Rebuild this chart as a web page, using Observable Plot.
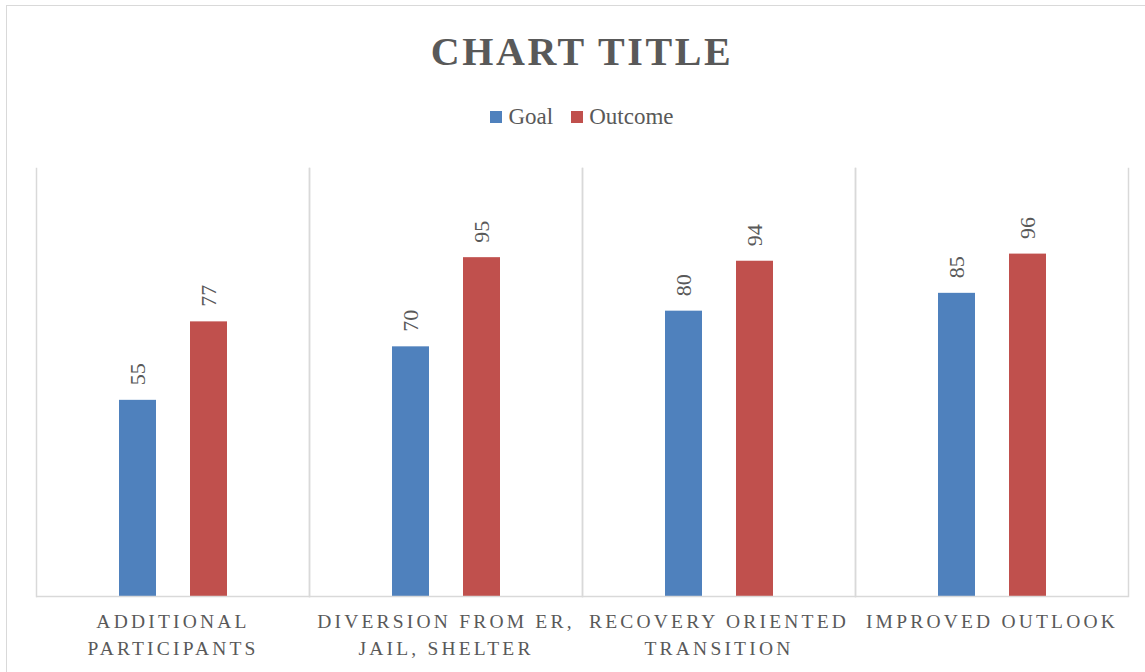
<!DOCTYPE html>
<html>
<head>
<meta charset="utf-8">
<script src="https://cdn.jsdelivr.net/npm/d3@7"></script>
<script src="https://cdn.jsdelivr.net/npm/@observablehq/plot@0.6"></script>
<style>
  html, body { margin: 0; padding: 0; background: #fff; }
  body { width: 1145px; height: 672px; position: relative; overflow: hidden; font-family: "Liberation Serif", serif; color: #595959; }
  #border { position: absolute; left: 6px; top: 5px; width: 1200px; height: 720px; border: 1.5px solid #d9d9d9; box-sizing: border-box; }
  #title { position: absolute; left: 36px; width: 1092px; top: 30px; text-align: center; font-size: 40px; font-weight: bold; letter-spacing: 2.6px; line-height: 44px; }
  #legend { position: absolute; left: 36px; width: 1092px; top: 104px; display: flex; justify-content: center; align-items: center; font-size: 23px; line-height: 26px; }
  #legend .item { display: flex; align-items: center; margin: 0 9px; }
  #legend .sw { width: 12px; height: 12px; margin-right: 6px; }
  #chart { position: absolute; left: 0; top: 150px; }
  #chart svg g[aria-label^="fx-axis"] text { letter-spacing: 3.2px; }
</style>
</head>
<body>
<div id="border"></div>
<div id="title">CHART TITLE</div>
<div id="legend"></div>
<div id="chart"></div>
<script>
const categories = ["Additional Participants", "Diversion from ER, Jail, Shelter", "Recovery Oriented Transition", "Improved Outlook"];
const tickLabels = ["ADDITIONAL\nPARTICIPANTS", "DIVERSION FROM ER,\nJAIL, SHELTER", "RECOVERY ORIENTED\nTRANSITION", "IMPROVED OUTLOOK"];
const seriesNames = ["Goal", "Outcome"];
const goalValues = [55, 70, 80, 85];
const outcomeValues = [77, 95, 94, 96];
const colors = ["#4F81BD", "#C0504D"];

const data = categories.flatMap((c, i) => [
  {category: c, series: "Goal", value: goalValues[i]},
  {category: c, series: "Outcome", value: outcomeValues[i]}
]);

const legend = document.getElementById("legend");
seriesNames.forEach((s, i) => {
  const item = document.createElement("div");
  item.className = "item";
  const sw = document.createElement("span");
  sw.className = "sw";
  sw.style.background = colors[i];
  const t = document.createElement("span");
  t.textContent = s;
  item.appendChild(sw); item.appendChild(t);
  legend.appendChild(item);
});

const chart = Plot.plot({
  width: 1145,
  height: 516,
  marginTop: 18,
  marginBottom: 70,
  marginLeft: 36,
  marginRight: 17,
  style: {fontFamily: "Liberation Serif, serif", color: "#595959", background: "transparent"},
  fx: {domain: categories, padding: 0, label: null},
  x: {domain: seriesNames, paddingInner: 0.479, paddingOuter: 1.162, axis: null},
  y: {domain: [0, 120], axis: null},
  color: {domain: seriesNames, range: colors},
  marks: [
    Plot.frame({anchor: "left", stroke: "#d9d9d9", strokeWidth: 1.5}),
    Plot.frame({anchor: "right", stroke: "#d9d9d9", strokeWidth: 1.5}),
    Plot.barY(data, {fx: "category", x: "series", y: "value", fill: "series"}),
    Plot.ruleY([0], {stroke: "#d9d9d9", strokeWidth: 1.5}),
    Plot.text(data, {fx: "category", x: "series", y: "value", text: d => String(d.value), rotate: -90, textAnchor: "start", dy: -15, fill: "#595959", fontSize: 22}),
    Plot.axisFx({anchor: "bottom", label: null, tickSize: 0, tickPadding: 13, fontSize: 19.5, fill: "#595959", lineHeight: 1.35, tickFormat: d => tickLabels[categories.indexOf(d)]})
  ]
});
document.getElementById("chart").appendChild(chart);
</script>
</body>
</html>
